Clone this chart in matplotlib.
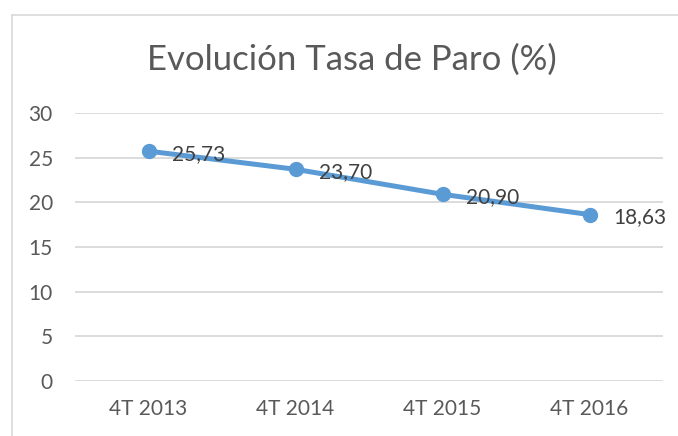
import matplotlib.pyplot as plt
from matplotlib.lines import Line2D

plt.rcParams['font.family'] = ['Lato', 'DejaVu Sans']

periodos = ['4T 2013', '4T 2014', '4T 2015', '4T 2016']
tasa_paro = [25.73, 23.70, 20.90, 18.63]
etiquetas = ['25,73', '23,70', '20,90', '18,63']
yticks = [0, 5, 10, 15, 20, 25, 30]

gris = '#595959'
azul = '#5B9BD5'

fig = plt.figure(figsize=(6.78, 4.36), dpi=100)
ax = fig.add_axes([75/678, 55/436, 588/678, 268/436])

x = list(range(len(periodos)))
ax.plot(x, tasa_paro, color=azul, lw=3.6, marker='o', ms=10, zorder=3)
for xi, yi, lab in zip(x, tasa_paro, etiquetas):
    ax.annotate(lab, (xi, yi), xytext=(17, -2), textcoords='offset points',
                ha='left', va='center', fontsize=15, color='#404040', zorder=4)

ax.set_xlim(-0.5, 3.5)
ax.set_ylim(0, 30)
ax.set_yticks(yticks)
ax.set_xticks(x)
ax.set_xticklabels(periodos)
ax.grid(axis='y', color='#D9D9D9', lw=1.3)
ax.set_axisbelow(True)
for s in ax.spines.values():
    s.set_visible(False)
ax.tick_params(length=0, labelsize=15, labelcolor=gris)
ax.tick_params(axis='y', pad=16)
ax.tick_params(axis='x', pad=13)

fig.text(352/678, 1 - 60/436, 'Evolución Tasa de Paro (%)', ha='center', va='center',
         fontsize=25, color=gris)

# chart border (only top and left visible)
fig.add_artist(Line2D([12/678, 12/678], [0, 1 - 15/436], color='#D9D9D9', lw=1.2))
fig.add_artist(Line2D([12/678, 1], [1 - 15/436, 1 - 15/436], color='#D9D9D9', lw=1.2))

fig.savefig('out.png', dpi=100)
